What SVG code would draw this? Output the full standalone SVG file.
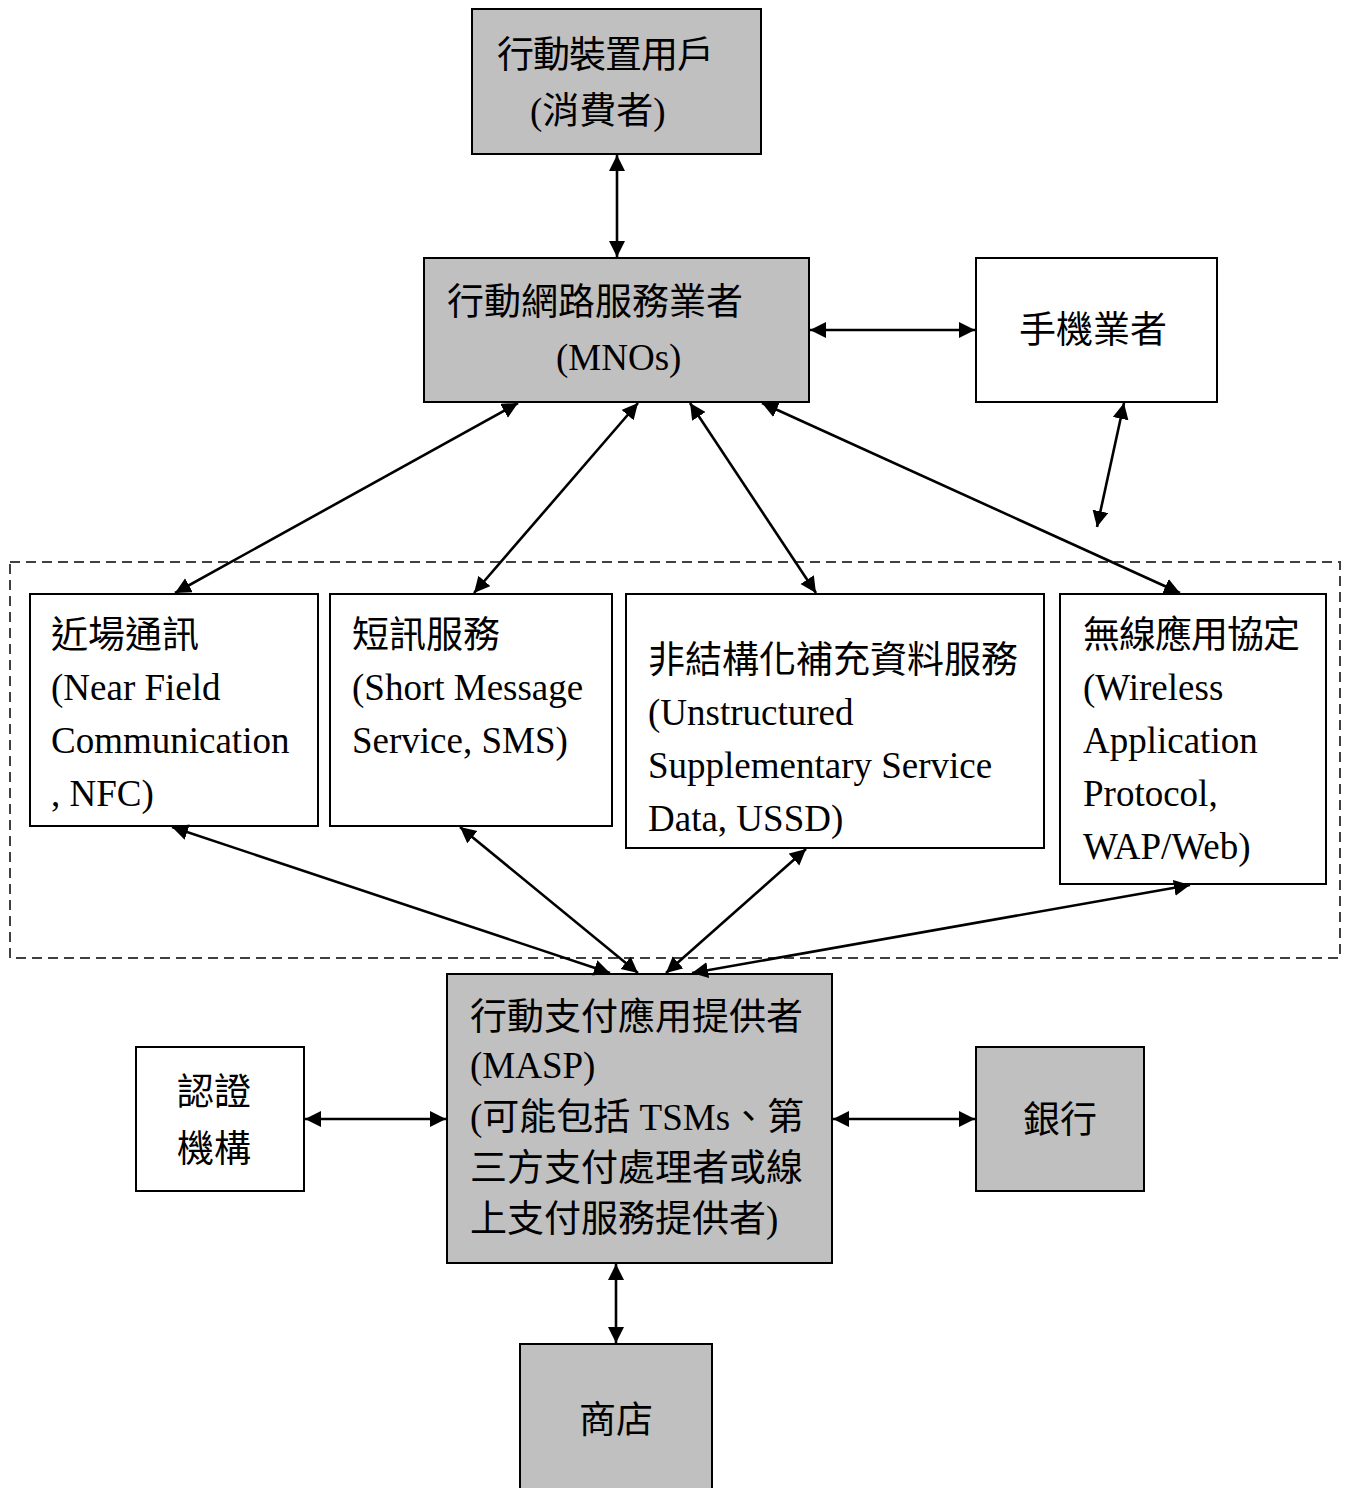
<svg xmlns="http://www.w3.org/2000/svg" width="1349" height="1488" viewBox="0 0 1349 1488">
  <defs>
    <style>
      .box { stroke: #000; stroke-width: 2; }
      .gray { fill: #c0c0c0; }
      .white { fill: #fff; }
      .t { font-family: "Liberation Serif", "Noto Sans CJK TC", serif; font-size: 37px; fill: #000; }
      .link { stroke: #000; stroke-width: 2.6; fill: none; marker-start: url(#head); marker-end: url(#head); }
      .group { fill: none; stroke: #404040; stroke-width: 2; stroke-dasharray: 10 6; }
    </style>
    <marker id="head" markerUnits="userSpaceOnUse" markerWidth="17" markerHeight="17" refX="16" refY="8" orient="auto-start-reverse">
      <path d="M0,0 L16,8 L0,16 z" fill="#000"/>
    </marker>
  </defs>
  <rect width="1349" height="1488" fill="#fff"/>

  <!-- dashed grouping of channels -->
  <rect class="group" x="10" y="562" width="1330" height="396"/>

  <g id="consumer">
    <rect class="box gray" x="472" y="9" width="289" height="145"/>
    <text class="t" x="497" y="68" letter-spacing="-1">行動裝置用戶</text>
    <text class="t" x="530" y="124">(消費者)</text>
  </g>

  <g id="mno">
    <rect class="box gray" x="424" y="258" width="385" height="144"/>
    <text class="t" x="447" y="315">行動網路服務業者</text>
    <text class="t" x="556" y="370">(MNOs)</text>
  </g>

  <g id="handset">
    <rect class="box white" x="976" y="258" width="241" height="144"/>
    <text class="t" x="1019" y="343">手機業者</text>
  </g>

  <g id="nfc">
    <rect class="box white" x="30" y="594" width="288" height="232"/>
    <text class="t" x="51" y="648">近場通訊</text>
    <text class="t" x="51" y="700">(Near Field</text>
    <text class="t" x="51" y="753">Communication</text>
    <text class="t" x="51" y="806">, NFC)</text>
  </g>

  <g id="sms">
    <rect class="box white" x="330" y="594" width="282" height="232"/>
    <text class="t" x="352" y="648">短訊服務</text>
    <text class="t" x="352" y="700">(Short Message</text>
    <text class="t" x="352" y="753">Service, SMS)</text>
  </g>

  <g id="ussd">
    <rect class="box white" x="626" y="594" width="418" height="254"/>
    <text class="t" x="648" y="673">非結構化補充資料服務</text>
    <text class="t" x="648" y="725">(Unstructured</text>
    <text class="t" x="648" y="778">Supplementary Service</text>
    <text class="t" x="648" y="831">Data, USSD)</text>
  </g>

  <g id="wap">
    <rect class="box white" x="1060" y="594" width="266" height="290"/>
    <text class="t" x="1083" y="648" letter-spacing="-1">無線應用協定</text>
    <text class="t" x="1083" y="700">(Wireless</text>
    <text class="t" x="1083" y="753">Application</text>
    <text class="t" x="1083" y="806">Protocol,</text>
    <text class="t" x="1083" y="859">WAP/Web)</text>
  </g>

  <g id="masp">
    <rect class="box gray" x="447" y="974" width="385" height="289"/>
    <text class="t" x="470" y="1030">行動支付應用提供者</text>
    <text class="t" x="470" y="1078">(MASP)</text>
    <text class="t" x="470" y="1130">(可能包括 TSMs、第</text>
    <text class="t" x="470" y="1181">三方支付處理者或線</text>
    <text class="t" x="470" y="1232">上支付服務提供者)</text>
  </g>

  <g id="certification">
    <rect class="box white" x="136" y="1047" width="168" height="144"/>
    <text class="t" x="177" y="1105">認證</text>
    <text class="t" x="177" y="1162">機構</text>
  </g>

  <g id="bank">
    <rect class="box gray" x="976" y="1047" width="168" height="144"/>
    <text class="t" x="1023" y="1133">銀行</text>
  </g>

  <g id="merchant">
    <rect class="box gray" x="520" y="1344" width="192" height="150"/>
    <text class="t" x="579" y="1433">商店</text>
  </g>

  <g id="connectors">
    <line class="link" x1="617" y1="155" x2="617" y2="257"/>
    <line class="link" x1="810" y1="330" x2="975" y2="330"/>
    <line class="link" x1="1124" y1="403" x2="1097" y2="527"/>
    <line class="link" x1="518" y1="403" x2="175" y2="593"/>
    <line class="link" x1="638" y1="403" x2="474" y2="593"/>
    <line class="link" x1="690" y1="403" x2="816" y2="593"/>
    <line class="link" x1="762" y1="403" x2="1180" y2="593"/>
    <line class="link" x1="172" y1="827" x2="610" y2="973"/>
    <line class="link" x1="460" y1="827" x2="638" y2="973"/>
    <line class="link" x1="806" y1="849" x2="666" y2="973"/>
    <line class="link" x1="1190" y1="885" x2="692" y2="973"/>
    <line class="link" x1="305" y1="1119" x2="446" y2="1119"/>
    <line class="link" x1="833" y1="1119" x2="975" y2="1119"/>
    <line class="link" x1="616" y1="1264" x2="616" y2="1343"/>
  </g>
</svg>
